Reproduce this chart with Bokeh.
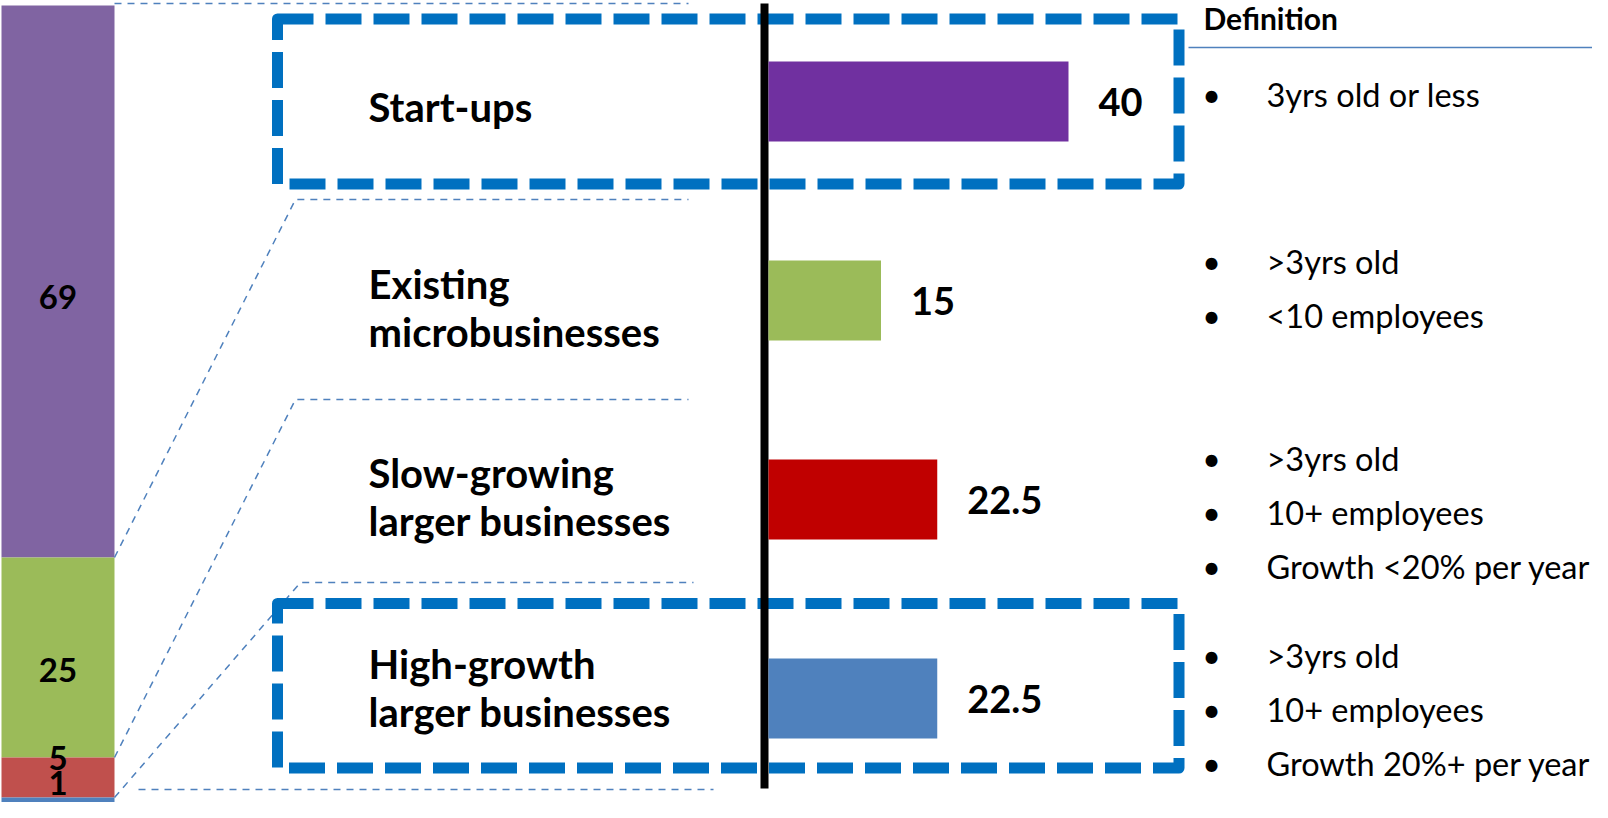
from bokeh.plotting import figure
from bokeh.models import Range1d, ColumnDataSource
from bokeh.core.properties import value
from bokeh.embed import file_html
from bokeh.resources import INLINE

# ---------------- data ----------------
stack_shares = [69, 25, 5, 1]                      # % of businesses, top to bottom
stack_labels = ["69", "25", "5", "1"]
stack_colors = ["#8064A2", "#9BBB59", "#C0504D", "#4F81BD"]

categories = ["Start-ups", "Existing\nmicrobusinesses",
              "Slow-growing\nlarger businesses", "High-growth\nlarger businesses"]
bar_values = [40, 15, 22.5, 22.5]
bar_labels = ["40", "15", "22.5", "22.5"]
bar_colors = ["#7030A0", "#9BBB59", "#C00000", "#4F81BD"]
highlighted = [True, False, False, True]

definition_title = "Definition"
definitions = [["3yrs old or less"],
               [">3yrs old", "<10 employees"],
               [">3yrs old", "10+ employees", "Growth <20% per year"],
               [">3yrs old", "10+ employees", "Growth 20%+ per year"]]

# ---------------- layout (pixel space) ----------------
W, H = 1592, 802
REF_X = (0, W)
REF_Y = (H, 0)              # bottom, top (inverted so y grows downward)
STACK_L, STACK_R = 1, 114
STACK_TOP, STACK_BOTTOM = 5, 805
ZERO_X, PX_PER_UNIT = 768, 7.5
ROW0_Y, ROW_STEP, BAR_H = 101, 199, 80
AXIS_X, AXIS_Y0, AXIS_Y1 = 764, 3, 788
CAT_X = 368
DEF_BULLET_X, DEF_TEXT_X, DEF_STEP = 1211, 1266, 54
FONT = "Lato"
BLUE_LINE = "#4F81BD"
BOX_COLOR = "#0070C0"

total = float(sum(stack_shares))
px_per_pct = (STACK_BOTTOM - STACK_TOP) / total

def pct_of(ref_y):
    return (STACK_BOTTOM - ref_y) / px_per_pct

def val_of(ref_x):
    return (ref_x - ZERO_X) / PX_PER_UNIT

def row_of(ref_y):
    return (ref_y - ROW0_Y) / ROW_STEP

def ref_of_pct(pct):
    return STACK_BOTTOM - pct * px_per_pct

p = figure(width=W, height=H, x_range=Range1d(*REF_X), y_range=Range1d(*REF_Y),
           output_backend="svg", toolbar_location=None, min_border=0,
           x_axis_type=None, y_axis_type=None, outline_line_color=None)
p.grid.visible = False
p.extra_y_ranges = {"pct": Range1d(pct_of(REF_Y[0]), pct_of(REF_Y[1])),
                    "row": Range1d(row_of(REF_Y[0]), row_of(REF_Y[1]))}
p.extra_x_ranges = {"val": Range1d(val_of(REF_X[0]), val_of(REF_X[1]))}

# ---------------- stacked bar ----------------
tops, bottoms = [], []
acc = total
for s in stack_shares:
    tops.append(acc)
    bottoms.append(acc - s)
    acc -= s
mids = [(t + b) / 2 for t, b in zip(tops, bottoms)]
stack_nudge = [15, 12, -20, -19]
ssrc = ColumnDataSource(dict(top=tops, bottom=bottoms, mid=mids, label=stack_labels,
                             color=stack_colors, nudge=stack_nudge))
p.vbar(x=(STACK_L + STACK_R) / 2, width=STACK_R - STACK_L, top="top", bottom="bottom",
       y_range_name="pct", fill_color="color", line_color=None, source=ssrc)
p.text(x=(STACK_L + STACK_R) / 2, y="mid", text="label", y_range_name="pct", y_offset="nudge",
       text_align="center", text_baseline="middle", text_font=value(FONT),
       text_font_style="bold", text_font_size="33px", text_color="black", source=ssrc)

# ---------------- thin dashed connectors ----------------
edge_y = [3, 199, 399, 582, 789]
edge_knee_x = [STACK_R, 295, 295, 300, 138]
edge_end_x = [688, 688, 688, 693, 713]
boundaries = [None] + [bottoms[i] for i in range(3)] + [None]
cxs, cys = [], []
for ey, kx, ex, b in zip(edge_y, edge_knee_x, edge_end_x, boundaries):
    if b is None:
        cxs.append([kx, ex]); cys.append([ey, ey])
    else:
        cxs.append([STACK_R, kx, ex]); cys.append([ref_of_pct(b), ey, ey])
p.multi_line(xs=cxs, ys=cys, line_color=BLUE_LINE, line_width=1.5, line_dash="7 6")

# ---------------- highlight boxes ----------------
box_tb = {0: (18.5, 183.5), 3: (603, 767.5)}
bl, br, bt, bb = [], [], [], []
for i, h in enumerate(highlighted):
    if h:
        bl.append(277); br.append(1178.5)
        bt.append(box_tb[i][0]); bb.append(box_tb[i][1])
p.quad(left=bl, right=br, top=bt, bottom=bb, fill_color=None, line_color=BOX_COLOR,
       line_width=11, line_dash="36 12", line_join="round")

# ---------------- axis line ----------------
p.segment(x0=[AXIS_X], y0=[AXIS_Y0], x1=[AXIS_X], y1=[AXIS_Y1], line_color="black", line_width=8)

# ---------------- horizontal bars ----------------
rows = list(range(len(categories)))
bsrc = ColumnDataSource(dict(row=rows, val=bar_values, label=bar_labels, color=bar_colors,
                             cat=categories, cnudge=[5, 7, -3, -11]))
p.hbar(y="row", left=0, right="val", height=BAR_H / ROW_STEP, x_range_name="val",
       y_range_name="row", fill_color="color", line_color=None, source=bsrc)
p.text(x="val", y="row", text="label", x_offset=30, x_range_name="val", y_range_name="row",
       text_align="left", text_baseline="middle", text_font=value(FONT), text_font_style="bold",
       text_font_size="38px", text_color="black", source=bsrc)
p.text(x=CAT_X, y="row", text="cat", y_range_name="row", y_offset="cnudge",
       text_align="left", text_baseline="middle", text_font=value(FONT), text_font_style="bold",
       text_font_size="40px", text_line_height=1.0, text_color="black", source=bsrc)

# ---------------- definitions ----------------
p.text(x=[1203], y=[17], text=[definition_title], text_align="left", text_baseline="middle",
       text_font=value(FONT), text_font_style="bold", text_font_size="30px", text_color="black")
p.segment(x0=[1188], y0=[47], x1=[REF_X[1]], y1=[47], line_color=BLUE_LINE, line_width=1.5)
def_nudge = [-7, -12, 13, 11]
dx, dy, dt = [], [], []
for i, lines in enumerate(definitions):
    n = len(lines)
    c = ROW0_Y + i * ROW_STEP + def_nudge[i]
    for j, t in enumerate(lines):
        dy.append(c + (j - (n - 1) / 2) * DEF_STEP)
        dt.append(t)
p.text(x=[DEF_BULLET_X] * len(dt), y=dy, text=["\u2022"] * len(dt), text_align="center",
       text_baseline="middle", text_font=value(FONT), text_font_size="32px", text_color="black")
p.text(x=[DEF_TEXT_X] * len(dt), y=dy, text=dt, text_align="left", text_baseline="middle",
       text_font=value(FONT), text_font_size="32.5px", text_color="black")

open("out.html", "w").write(file_html(p, INLINE))
